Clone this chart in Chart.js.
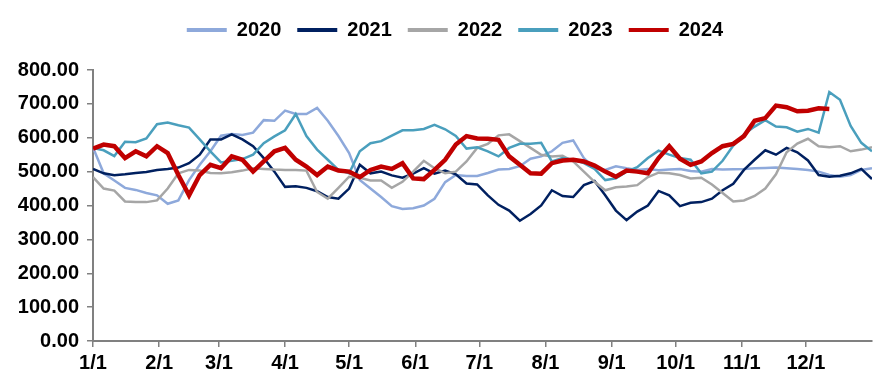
<!DOCTYPE html>
<html>
<head>
<meta charset="utf-8">
<script src="https://cdn.jsdelivr.net/npm/chart.js@4.4.1/dist/chart.umd.min.js"></script>
<style>
  html, body { margin: 0; padding: 0; background: #fff; }
  #wrap { width: 889px; height: 388px; position: relative; }
</style>
</head>
<body>
<div id="wrap"><canvas id="c"></canvas></div>
<script>
// Day of year (sampled every 5 days)
const days = [0,5,10,15,20,25,30,35,40,45,50,55,60,65,70,75,80,85,90,95,100,105,110,115,120,125,130,135,140,145,150,155,160,165,170,175,180,185,190,195,200,205,210,215,220,225,230,235,240,245,250,255,260,265,270,275,280,285,290,295,300,305,310,315,320,325,330,335,340,345,350,355,360,365];

// Month-start tick positions (day of year) and labels
const tickDays = [0,31,59,90,120,151,181,212,243,273,304,334];
const tickLabels = ['1/1','2/1','3/1','4/1','5/1','6/1','7/1','8/1','9/1','10/1','11/1','12/1'];

const y2020 = [571,495,474,452,446,437,430,405,415,475,520,560,606,611,608,615,652,650,680,670,670,688,650,605,555,475,450,425,398,390,392,400,420,469,490,487,487,496,506,508,516,538,545,560,585,592,540,510,505,516,510,505,508,504,506,508,502,500,508,506,507,508,510,511,512,510,508,505,500,490,485,490,505,510];
const y2021 = [508,495,489,492,496,499,505,508,512,525,550,595,595,610,595,575,540,500,455,457,452,442,425,420,450,520,495,500,489,482,494,510,494,503,492,465,462,430,402,385,355,375,400,445,428,425,460,472,430,385,357,382,400,443,430,398,408,410,420,445,464,505,535,563,550,570,557,533,490,485,488,495,508,478];
const y2022 = [484,450,444,412,410,410,415,450,495,505,503,496,495,498,503,510,508,506,505,505,503,440,420,452,485,482,474,474,452,470,500,532,510,495,500,530,570,582,607,610,590,570,550,545,547,530,500,470,445,454,456,460,484,497,495,490,480,482,462,437,412,415,428,450,492,557,583,597,575,572,575,560,565,572];
const y2023 = [570,563,546,588,587,598,640,645,637,630,595,560,527,532,537,550,584,604,622,670,605,565,535,505,495,560,584,590,606,622,622,626,638,625,605,568,572,560,545,570,582,582,585,530,540,535,525,508,475,480,500,513,540,562,550,540,535,495,500,532,577,610,633,652,633,631,618,626,615,735,712,635,585,560];
const y2024 = [568,580,575,540,560,545,575,555,490,430,490,520,510,545,535,500,530,560,570,535,515,490,515,503,500,484,505,515,508,525,480,478,505,535,580,605,598,597,594,545,520,495,494,525,533,535,530,518,500,485,503,500,495,540,575,538,520,530,555,575,582,605,650,658,695,690,678,680,687,685];

const seriesNames = ['2020','2021','2022','2023','2024'];
const seriesColors = ['#8EA9DB','#002060','#A6A6A6','#4A9FBD','#C00000'];
const seriesWidths = [2.5,2.5,2.5,2.5,4.5];
const seriesValues = [y2020,y2021,y2022,y2023,y2024];

const font = { family: "'Liberation Sans', Arial, sans-serif", size: 20, weight: 'bold' };

const datasets = seriesValues.map((vals, i) => ({
  label: seriesNames[i],
  data: vals.map((v, j) => ({ x: days[j], y: v })),
  borderColor: seriesColors[i],
  backgroundColor: seriesColors[i],
  borderWidth: seriesWidths[i],
  pointRadius: 0,
  tension: 0,
  order: i === 4 ? 0 : 5 - i
}));

const axisGrid = { display: true, drawOnChartArea: false, drawTicks: true, tickLength: 6, color: '#808080', lineWidth: 1.5 };
const axisBorder = { display: true, color: '#808080', width: 2 };

const legendPlacement = {
  id: 'legendPlacement',
  beforeInit(chart) {
    const origFit = chart.legend.fit;
    chart.legend.fit = function () {
      origFit.call(this);
      this.height += 20;
    };
  },
  afterLayout(chart) {
    chart.legend.left += 19;
    chart.legend.right += 19;
  }
};

new Chart(document.getElementById('c'), {
  type: 'line',
  data: { datasets },
  plugins: [legendPlacement],
  options: {
    responsive: true,
    maintainAspectRatio: false,
    animation: false,
    layout: { padding: { top: 4, right: 17, bottom: 0, left: 0 } },
    plugins: {
      tooltip: { enabled: false },
      legend: {
        position: 'top',
        labels: {
          boxWidth: 40,
          boxHeight: 4,
          padding: 16,
          color: '#000',
          font: font,
          sort: (a, b) => a.datasetIndex - b.datasetIndex,
          generateLabels: (chart) => Chart.defaults.plugins.legend.labels.generateLabels(chart).map(l => ({ ...l, lineWidth: 0 }))
        }
      }
    },
    scales: {
      x: {
        type: 'linear',
        min: 0,
        max: 365,
        afterBuildTicks: (s) => { s.ticks = tickDays.map(v => ({ value: v })); },
        afterFit: (s) => { s.height = 47; },
        ticks: {
          autoSkip: false,
          maxRotation: 0,
          color: '#000',
          font: font,
          padding: 4,
          callback: (v) => { const k = tickDays.indexOf(v); return k >= 0 ? tickLabels[k] : ''; }
        },
        grid: axisGrid,
        border: axisBorder
      },
      y: {
        min: 0,
        max: 800,
        afterFit: (s) => { s.width = 93; },
        ticks: {
          stepSize: 100,
          color: '#000',
          font: font,
          padding: 8,
          callback: (v) => Number(v).toFixed(2)
        },
        grid: axisGrid,
        border: axisBorder
      }
    }
  }
});
</script>
</body>
</html>
